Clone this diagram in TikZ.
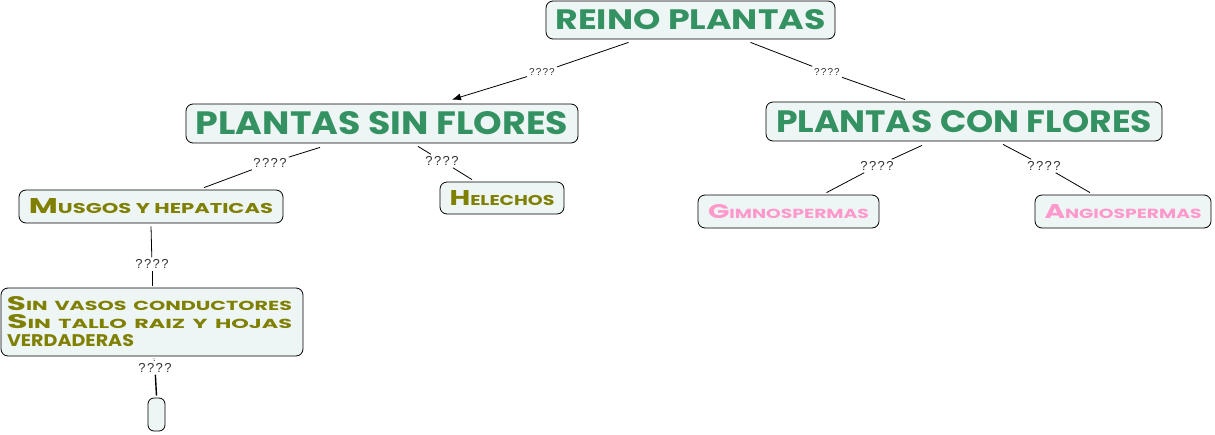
\documentclass[tikz,border=0pt]{standalone}
\usepackage{fontspec}
\usepackage{graphicx}
\usetikzlibrary{arrows.meta}
\newfontfamily\deco{Poppins}
\newfontfamily\lblfont{Liberation Sans}[LetterSpace=11]
\definecolor{boxfill}{RGB}{238,245,245}
\definecolor{tgreen}{RGB}{52,146,98}
\definecolor{tolive}{RGB}{128,128,0}
\definecolor{tpink}{RGB}{255,153,204}
\newcommand\bigcaps[3]{\resizebox{#1pt}{#2pt}{\deco\bfseries\fontsize{20}{20}\selectfont #3}}
\newcommand\smcaps[4]{\resizebox{#1pt}{#2pt}{\deco\bfseries\fontsize{15}{15}\selectfont #3\fontsize{10}{10}\selectfont\MakeUppercase{#4}}}
\begin{document}
\begin{tikzpicture}[x=1pt,y=-1pt,
  concept/.style={draw=black,line width=0.8pt,fill=boxfill,rounded corners=7pt,inner sep=0pt,anchor=center},
  lbl/.style={font=\lblfont\fontsize{13}{13}\selectfont,text=black!80,inner sep=2pt},
  toplbl/.style={lbl,font=\lblfont\fontsize{10}{10}\selectfont},
  link/.style={draw=black,line width=0.8pt}]
\useasboundingbox (0,0) rectangle (1215,434);
% concept nodes
\node[concept,minimum width=289pt,minimum height=38pt,text=tgreen] (reino) at (690.5,20) {\bigcaps{270}{20}{REINO PLANTAS}};
\node[concept,minimum width=392pt,minimum height=39pt,text=tgreen] (sinf) at (382,123.5) {\bigcaps{372}{23}{PLANTAS SIN FLORES}};
\node[concept,minimum width=396pt,minimum height=39pt,text=tgreen] (conf) at (964,121.5) {\bigcaps{376}{22}{PLANTAS CON FLORES}};
\node[concept,minimum width=264pt,minimum height=33pt,text=tolive] (musgos) at (151,206.5) {\smcaps{244}{15}{M}{usgos y hepaticas}};
\node[concept,minimum width=124pt,minimum height=32pt,text=tolive] (helechos) at (502,198) {\smcaps{105}{15}{H}{elechos}};
\node[concept,minimum width=181pt,minimum height=33pt,text=tpink] (gimno) at (788.5,211.5) {\smcaps{161}{14}{G}{imnospermas}};
\node[concept,minimum width=176pt,minimum height=33pt,text=tpink] (angio) at (1123,211.5) {\smcaps{157}{14}{A}{ngiospermas}};
\node[concept,minimum width=302pt,minimum height=68pt,text=tolive,align=left,text width=290pt,
  font=\fontsize{10}{18}\selectfont] (sinv) at (152,322) {%
  \smcaps{285}{14}{S}{in vasos conductores}\\
  \smcaps{285}{14}{S}{in tallo raiz y hojas}\\
  \smcaps{127}{12}{}{verdaderas}};
\node[concept,minimum width=17pt,minimum height=33pt,rounded corners=6pt] (vacio) at (156.5,414.5) {};
% linking phrases
\node[toplbl] (l1) at (542,72) {????};
\node[toplbl] (l2) at (827,72) {????};
\node[lbl] (l3) at (270,163) {????};
\node[lbl] (l4) at (442,161) {????};
\node[lbl] (l5) at (877,166) {????};
\node[lbl] (l6) at (1044,166) {????};
\node[lbl] (l7) at (152,264) {????};
\node[lbl] (l8) at (155,368) {????};
% connectors
\draw[link] ([shift={(-62,3)}]reino.south) -- (l1);
\draw[link,-{Latex[length=9pt,width=7pt]}] (l1) -- ([shift={(70,-4)}]sinf.north);
\draw[link] ([shift={(60,3)}]reino.south) -- (l2);
\draw[link] (l2) -- ([shift={(-59,-2)}]conf.north);
\draw[link] ([shift={(-62,4)}]sinf.south) -- (l3);
\draw[link] (l3) -- ([shift={(53,-2)}]musgos.north);
\draw[link] ([shift={(36,3)}]sinf.south) -- (l4);
\draw[link] (l4) -- ([shift={(-30,-2)}]helechos.north);
\draw[link] ([shift={(-42,4)}]conf.south) -- (l5);
\draw[link] (l5) -- ([shift={(38,-2)}]gimno.north);
\draw[link] ([shift={(39,3)}]conf.south) -- (l6);
\draw[link] (l6) -- ([shift={(-33,-2)}]angio.north);
\draw[link] ([shift={(0,3)}]musgos.south) -- (l7);
\draw[link] (l7) -- ([shift={(0,-2)}]sinv.north);
\draw[link,densely dotted] ([shift={(2,2)}]sinv.south) -- (l8);
\draw[link,line width=1.4pt] (l8) -- ([shift={(0,-2)}]vacio.north);
\end{tikzpicture}
\end{document}
